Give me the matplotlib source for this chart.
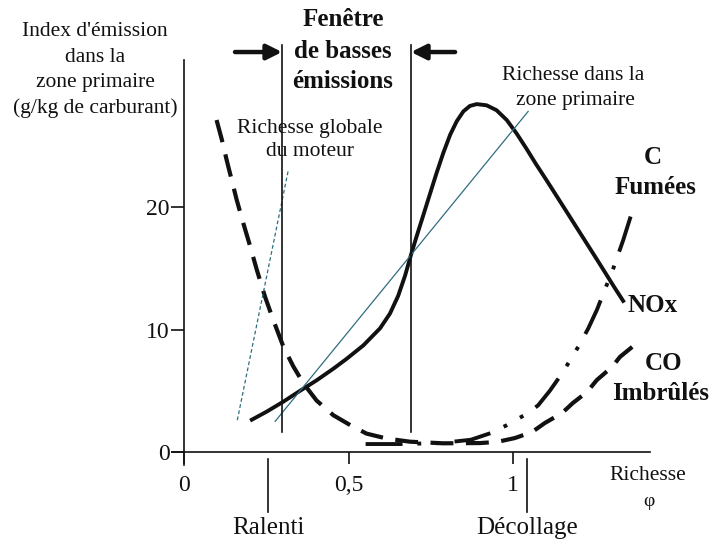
import matplotlib
matplotlib.use("Agg")
import matplotlib.pyplot as plt

# ---------------- data ----------------
nox_phi = [0.201, 0.251, 0.302, 0.353, 0.403, 0.454, 0.494, 0.545, 0.596, 0.626,
           0.651, 0.672, 0.690, 0.707, 0.727, 0.748, 0.768, 0.788, 0.809, 0.829,
           0.849, 0.869, 0.890, 0.920, 0.950, 0.981, 1.011, 1.040, 1.070,
           1.104, 1.155, 1.207, 1.259, 1.308, 1.338]
nox_val = [2.56, 3.29, 4.11, 5.0, 5.85, 6.8, 7.6, 8.7, 10.1, 11.3,
           12.75, 14.4, 16.1, 17.6, 19.3, 21.1, 22.8, 24.4, 25.9, 27.0,
           27.8, 28.25, 28.4, 28.3, 27.9, 27.1, 26.0, 24.8, 23.5,
           22.1, 19.95, 17.75, 15.55, 13.45, 12.2]

co_phi = [0.099, 0.115, 0.130, 0.145, 0.160, 0.180, 0.201, 0.221, 0.246, 0.271,
          0.302, 0.332, 0.363, 0.403, 0.454, 0.505, 0.555, 0.616, 0.687, 0.788,
          0.900, 0.951, 1.006, 1.058, 1.097, 1.149, 1.182, 1.225, 1.255, 1.301,
          1.325, 1.377]
co_val = [27.1, 25.5, 23.8, 22.2, 20.6, 18.7, 16.8, 14.9, 12.7, 10.8,
          8.6, 7.0, 5.6, 4.2, 3.0, 2.2, 1.5, 1.1, 0.84, 0.71,
          0.73, 0.82, 1.14, 1.63, 2.37, 3.18, 4.0, 4.9, 5.88, 6.94,
          7.76, 8.9]

c_phi = [0.552, 0.659, 0.780, 0.872, 0.933, 0.982, 1.034, 1.076, 1.112, 1.146,
         1.174, 1.203, 1.229, 1.255, 1.277, 1.305, 1.335, 1.369]
c_val = [0.65, 0.65, 0.73, 1.0, 1.55, 2.2, 3.0, 3.8, 5.0, 6.3,
         7.5, 8.8, 10.1, 11.6, 13.1, 15.0, 17.3, 20.2]

# straight reference lines (end points)
zone_phi = [0.277, 1.046]
zone_val = [2.5, 27.8]
glob_phi = [0.162, 0.317]
glob_val = [2.6, 23.0]

# low-emission window limits and operating points
window_phi = [0.298, 0.690]
ralenti_phi = 0.255
decollage_phi = 1.043

x_ticks = [0, 0.5, 1]
x_ticklabels = ["0", "0,5", "1"]
y_ticks = [0, 10, 20]
y_ticklabels = ["0", "10", "20"]

# ---------------- figure ----------------
W, H = 713, 544
plt.rcParams["font.family"] = ["Liberation Serif", "DejaVu Serif"]
fig = plt.figure(figsize=(W / 100, H / 100), dpi=100)

X0, XS = 184, 329      # pixel of phi=0, pixels per unit
Y0, YS = 452, 12.25    # pixel of value=0, pixels per unit
left_px, right_px, top_px, bot_px = 172, 650, 60, 465
ax = fig.add_axes([left_px / W, 1 - bot_px / H, (right_px - left_px) / W, (bot_px - top_px) / H])
ax.set_xlim((left_px - X0) / XS, (right_px - X0) / XS)
ax.set_ylim((Y0 - bot_px) / YS, (Y0 - top_px) / YS)

ink = "#111111"
thin = "#2e6e7e"

for s in ["top", "right"]:
    ax.spines[s].set_visible(False)
ax.spines["left"].set_position(("data", 0))
ax.spines["bottom"].set_position(("data", 0))
for s in ["left", "bottom"]:
    ax.spines[s].set_linewidth(1.2)
    ax.spines[s].set_color(ink)

ax.set_xticks(x_ticks)
ax.set_xticklabels(x_ticklabels)
ax.set_yticks(y_ticks)
ax.set_yticklabels(y_ticklabels)
ax.tick_params(axis="x", direction="out", length=8.6, width=1.2, labelsize=17, pad=8, colors=ink)
ax.tick_params(axis="y", direction="out", length=9.4, width=1.2, labelsize=17, pad=1, colors=ink)
ax.patch.set_alpha(0)

# curves
ax.plot(nox_phi, nox_val, color=ink, lw=2.8, solid_capstyle="butt",
        solid_joinstyle="round", clip_on=False)
ax.plot(co_phi, co_val, color=ink, lw=3.0, linestyle=(0, (5.5, 3)), clip_on=False)
ax.plot(c_phi, c_val, color=ink, lw=2.8,
        linestyle=(0, (9.5, 3.8, 1, 3.8, 1, 3.8)), clip_on=False)
ax.plot(zone_phi, zone_val, color=thin, lw=0.9, clip_on=False)
ax.plot(glob_phi, glob_val, color=thin, lw=0.9, linestyle=(0, (3, 2)), clip_on=False)

# window lines
for p in window_phi:
    ax.plot([p, p], [1.6, 33.2], color=ink, lw=1.2, clip_on=False)

# arrows of the window
arr_y = 32.65
ax.annotate("", xy=(window_phi[0], arr_y), xytext=(0.155, arr_y),
            arrowprops=dict(arrowstyle="-|>,head_length=0.9,head_width=0.45",
                            lw=3.2, color=ink, shrinkA=0, shrinkB=0),
            annotation_clip=False)
ax.annotate("", xy=(window_phi[1], arr_y), xytext=(0.824, arr_y),
            arrowprops=dict(arrowstyle="-|>,head_length=0.9,head_width=0.45",
                            lw=3.2, color=ink, shrinkA=0, shrinkB=0),
            annotation_clip=False)

# operating point markers below the axis
for p in [ralenti_phi, decollage_phi]:
    ax.plot([p, p], [-0.6, -4.9], color=ink, lw=1.2, clip_on=False)


def ftext(px, py, s, **kw):
    kw.setdefault("ha", "center")
    kw.setdefault("va", "center")
    kw.setdefault("color", ink)
    fig.text(px / W, 1 - py / H, s, **kw)


# y label
for py, s in zip([32, 57, 83, 108],
                 ["Index d'émission", "dans la", "zone primaire", "(g/kg de carburant)"]):
    ftext(95, py, s, fontsize=15.5)

# window title
for py, s in zip([20, 52, 82], ["Fenêtre", "de basses", "émissions"]):
    ftext(343, py, s, fontsize=18, fontweight="bold")

ftext(310, 128, "Richesse globale", fontsize=15.5)
ftext(310, 152, "du moteur", fontsize=15.5)
ftext(573, 75, "Richesse dans la", fontsize=15.5)
ftext(575, 100, "zone primaire", fontsize=15.5)

ftext(653, 157, "C", fontsize=18, fontweight="bold")
ftext(655, 187, "Fumées", fontsize=18, fontweight="bold")
ftext(628, 305, "NOx", fontsize=18, fontweight="bold", ha="left")
ftext(664, 363, "CO", fontsize=18, fontweight="bold")
ftext(661, 393, "Imbrûlés", fontsize=18, fontweight="bold")

ftext(648, 475, "Richesse", fontsize=15.5)
ftext(649, 502, "φ", fontsize=14)
ftext(268, 528, "Ralenti", fontsize=18)
ftext(527, 528, "Décollage", fontsize=18)

fig.savefig("out.png", dpi=100)
